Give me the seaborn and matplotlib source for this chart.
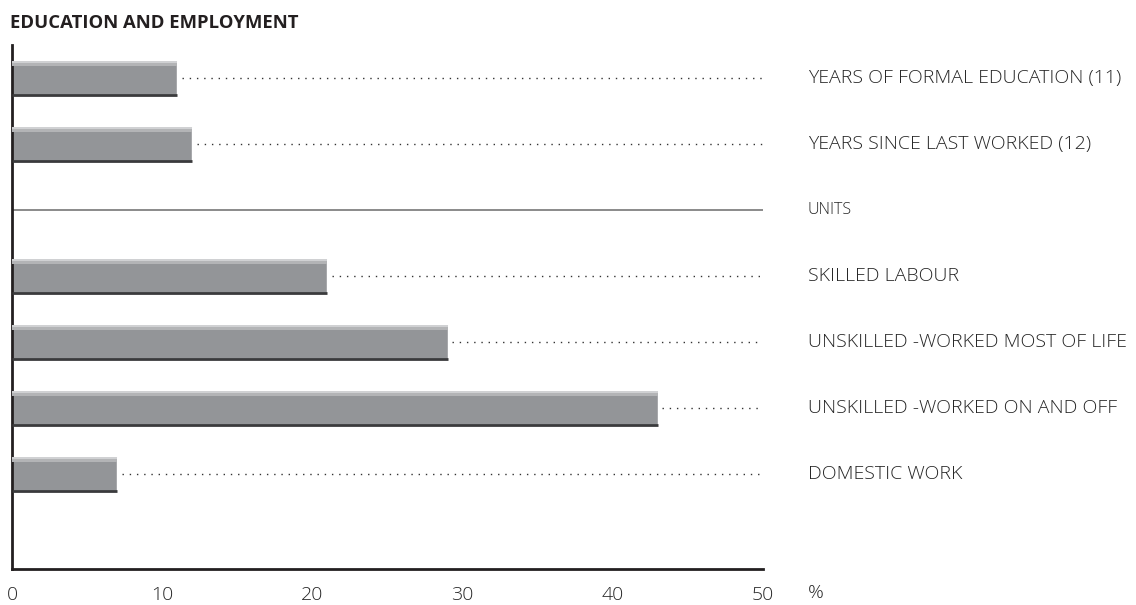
import numpy as np
import pandas as pd
import matplotlib.pyplot as plt
import seaborn as sns

sns.set_style('white')
plt.rcParams['font.family'] = ['Open Sans', 'DejaVu Sans']

# data
labels = ['YEARS OF FORMAL EDUCATION (11)', 'YEARS SINCE LAST WORKED (12)', 'UNITS',
          'SKILLED LABOUR', 'UNSKILLED -WORKED MOST OF LIFE',
          'UNSKILLED -WORKED ON AND OFF', 'DOMESTIC WORK']
values = [11, 12, np.nan, 21, 29, 43, 7]
xticks = [0, 10, 20, 30, 40, 50]

df = pd.DataFrame({'label': labels, 'value': values})

fig = plt.figure(figsize=(11.36, 6.05), dpi=100)
ax = fig.add_axes([0.0106, 0.0595, 0.661, 0.866])

sns.barplot(data=df, x='value', y='label', orient='h', color='#939598',
            saturation=1, width=0.52, ax=ax)

text_c = '#262626'
# bar shading: light top strip, dark bottom edge
for p in ax.patches:
    x0, y0 = p.get_x(), p.get_y()
    w, h = p.get_width(), p.get_height()
    if not np.isfinite(w) or w == 0:
        continue
    ax.fill_between([x0, x0 + w], y0, y0 + h * 0.07, color='#d0d1d3', lw=0, zorder=3)
    ax.fill_between([x0, x0 + w], y0 + h * 0.07, y0 + h * 0.14, color='#b3b4b6', lw=0, zorder=3)
    ax.plot([x0, x0 + w], [y0 + h, y0 + h], color='#3a3a3c', lw=2, zorder=3,
            solid_capstyle='butt')

# dotted leader lines and labels
for i, (lab, v) in enumerate(zip(labels, values)):
    if lab == 'UNITS':
        ax.plot([0, 50], [i, i], color='#777777', lw=1.2, zorder=2)
        ax.text(53.0, i, lab, fontsize=11.5, color=text_c, va='center', ha='left',
                fontweight='light', clip_on=False)
    else:
        ax.plot([v + 0.3, 50], [i, i], color='#333333', lw=1,
                linestyle=(0, (1, 4.2)), zorder=2)
        ax.text(53.0, i, lab, fontsize=14, color=text_c, va='center', ha='left',
                fontweight='light', clip_on=False)

ax.set_xlim(0, 50)
ax.set_ylim(7.44, -0.5)
ax.set_xticks(xticks)
ax.set_xticklabels([str(t) for t in xticks], fontsize=14, color=text_c, fontweight='light')
ax.set_yticks([])
ax.set_xlabel('')
ax.set_ylabel('')
ax.tick_params(axis='x', direction='in', length=10, width=2, color='#231f20', pad=12)
for s in ['top', 'right']:
    ax.spines[s].set_visible(False)
for s in ['left', 'bottom']:
    ax.spines[s].set_linewidth(2)
    ax.spines[s].set_color('#231f20')

ax.text(53.0, -0.046, '%', fontsize=14, color=text_c, transform=ax.get_xaxis_transform(),
        va='center', ha='left', fontweight='light')
ax.text(-0.0025, 1.042, 'EDUCATION AND EMPLOYMENT', fontsize=13.3, fontweight='bold',
        color='#231f20', va='center', ha='left', transform=ax.transAxes)

fig.savefig('out.png', dpi=100)
